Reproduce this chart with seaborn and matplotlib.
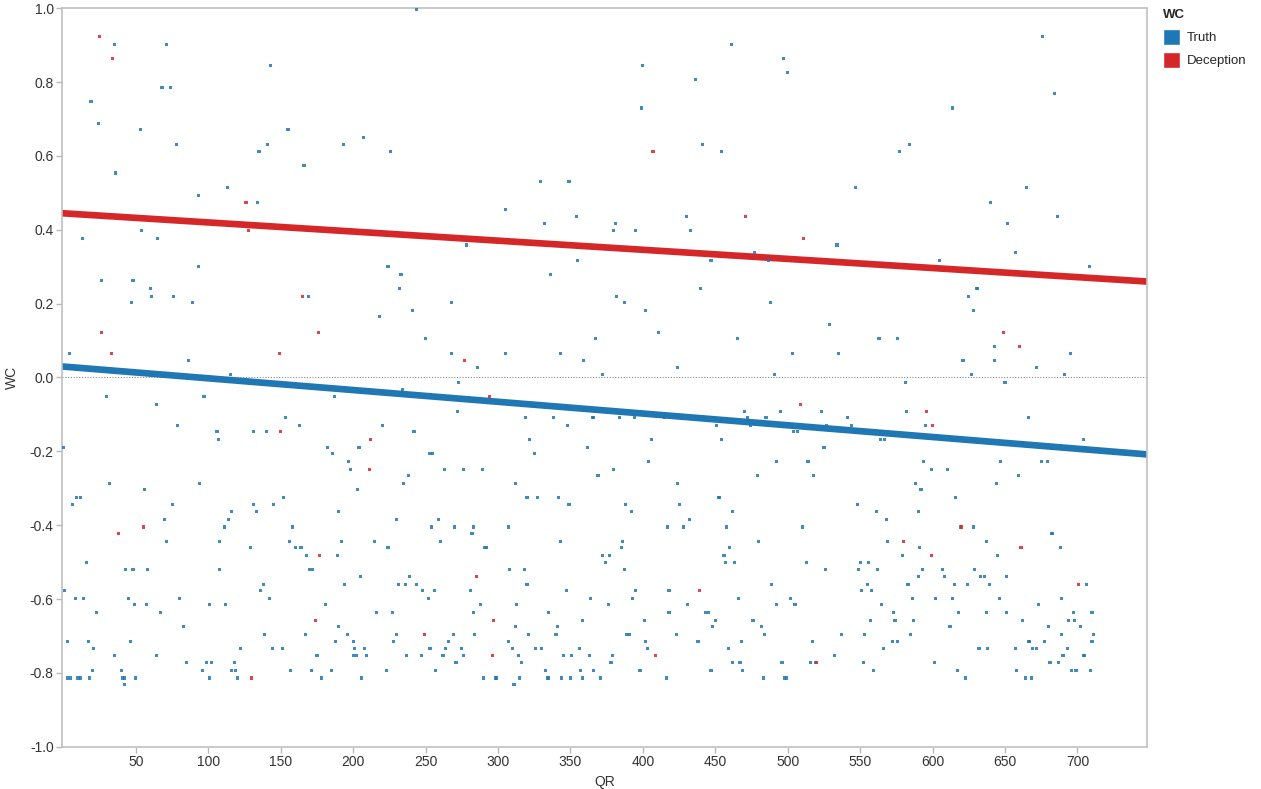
import numpy as np
import pandas as pd
import matplotlib
matplotlib.use("Agg")
import matplotlib.pyplot as plt
from matplotlib.patches import Patch
import seaborn as sns

# points: (QR, WC)
truth_points = [
    (35, 0.903), (71, 0.903), (143, 0.844), (68, 0.786), (74, 0.786), (19, 0.748), (24, 0.688),
    (53, 0.671), (155, 0.671), (78, 0.630), (141, 0.630), (135, 0.612), (166, 0.575), (36, 0.554),
    (93, 0.494), (113, 0.515), (134, 0.473), (54, 0.397), (13, 0.377), (65, 0.377),
    (244, 0.997), (400, 0.844), (399, 0.730), (193, 0.630), (207, 0.650), (226, 0.612), (329, 0.532),
    (349, 0.532), (305, 0.456), (332, 0.418), (354, 0.435), (381, 0.418), (380, 0.397), (395, 0.397),
    (278, 0.359),
    (461, 0.903), (497, 0.865), (500, 0.827), (436, 0.807), (614, 0.730), (441, 0.630), (454, 0.612),
    (577, 0.612), (584, 0.630), (547, 0.515), (430, 0.435), (433, 0.397), (534, 0.359), (477, 0.338),
    (676, 0.924), (684, 0.769), (665, 0.515), (640, 0.473), (686, 0.435), (652, 0.418), (657, 0.338),
    (4, 0.064), (26, 0.262), (48, 0.262), (47, 0.203), (60, 0.241), (61, 0.220), (76, 0.220),
    (89, 0.203), (93, 0.300), (86, 0.047), (115, 0.008), (169, 0.220), (30, -0.051), (64, -0.072),
    (79, -0.130), (97, -0.051), (106, -0.147), (107, -0.168), (131, -0.147), (140, -0.147),
    (153, -0.109), (163, -0.130), (0, -0.189), (182, -0.189), (32, -0.286), (56, -0.304),
    (94, -0.286), (9, -0.324), (12, -0.324), (6, -0.345), (75, -0.345), (131, -0.345), (145, -0.345),
    (152, -0.324),
    (224, 0.300), (233, 0.279), (232, 0.241), (241, 0.182), (218, 0.164), (268, 0.203), (250, 0.106),
    (268, 0.064), (286, 0.026), (305, 0.064), (336, 0.279), (355, 0.317), (343, 0.064), (359, 0.047),
    (367, 0.106), (372, 0.008), (382, 0.220), (387, 0.203), (402, 0.182), (187, -0.051), (234, -0.034),
    (273, -0.013), (272, -0.092), (319, -0.109), (338, -0.109), (348, -0.130), (365, -0.109),
    (366, -0.109), (384, -0.109), (394, -0.109), (220, -0.130), (242, -0.147), (186, -0.206),
    (204, -0.189), (197, -0.227), (198, -0.249), (253, -0.206), (255, -0.206), (322, -0.168),
    (325, -0.206), (263, -0.249), (276, -0.249), (289, -0.249), (238, -0.266), (235, -0.286),
    (203, -0.304), (312, -0.286), (320, -0.324), (327, -0.324), (342, -0.324), (349, -0.345),
    (362, -0.189), (369, -0.266), (380, -0.249), (388, -0.345), (404, -0.227),
    (447, 0.317), (487, 0.317), (605, 0.317), (440, 0.241), (488, 0.203), (411, 0.123), (465, 0.106),
    (529, 0.144), (563, 0.106), (576, 0.106), (625, 0.220), (503, 0.064), (535, 0.064), (424, 0.026),
    (491, 0.008), (621, 0.047), (581, -0.013), (470, -0.092), (495, -0.092), (523, -0.092),
    (582, -0.092), (415, -0.109), (472, -0.109), (485, -0.109), (541, -0.109), (451, -0.130),
    (474, -0.130), (527, -0.130), (544, -0.130), (595, -0.130), (504, -0.147), (507, -0.147),
    (406, -0.168), (454, -0.168), (564, -0.168), (567, -0.168), (525, -0.189), (492, -0.227),
    (514, -0.227), (594, -0.227), (599, -0.249), (610, -0.249), (479, -0.266), (518, -0.266),
    (424, -0.286), (588, -0.286), (592, -0.304), (452, -0.324), (453, -0.324), (616, -0.324),
    (425, -0.345), (548, -0.345),
    (708, 0.300), (630, 0.241), (631, 0.241), (628, 0.182), (643, 0.085), (695, 0.064), (643, 0.047),
    (672, 0.026), (627, 0.008), (691, 0.008), (650, -0.013), (666, -0.109), (704, -0.168),
    (647, -0.227), (675, -0.227), (679, -0.227), (659, -0.266), (644, -0.286),
    (70, -0.384), (71, -0.443), (16, -0.501), (43, -0.520), (48, -0.520), (58, -0.520), (1, -0.577),
    (8, -0.599), (14, -0.599), (45, -0.599), (49, -0.616), (57, -0.616), (23, -0.637), (67, -0.637),
    (80, -0.599), (83, -0.675), (3, -0.716), (17, -0.716), (46, -0.716), (21, -0.734), (35, -0.754),
    (64, -0.754), (20, -0.793), (40, -0.793), (85, -0.772), (3, -0.814), (5, -0.814), (10, -0.814),
    (12, -0.814), (18, -0.814), (41, -0.814), (42, -0.814), (42, -0.831), (50, -0.814), (96, -0.793),
    (99, -0.772), (102, -0.772), (101, -0.814), (101, -0.616), (108, -0.520), (108, -0.443),
    (111, -0.405), (114, -0.384), (116, -0.363), (112, -0.616), (122, -0.734), (116, -0.793),
    (119, -0.793), (118, -0.772), (120, -0.814), (129, -0.460), (133, -0.363), (136, -0.577),
    (138, -0.561), (142, -0.599), (139, -0.696), (144, -0.734), (151, -0.734), (156, -0.443),
    (158, -0.405), (160, -0.460), (164, -0.460), (168, -0.481), (170, -0.520), (172, -0.520),
    (167, -0.696), (175, -0.754), (157, -0.793), (171, -0.793), (178, -0.814), (181, -0.616),
    (190, -0.363), (192, -0.443), (189, -0.481), (194, -0.561), (190, -0.675), (196, -0.696),
    (188, -0.716), (200, -0.716), (201, -0.734), (200, -0.754), (202, -0.754), (208, -0.734),
    (209, -0.754), (185, -0.793), (206, -0.814), (205, -0.540), (215, -0.443), (224, -0.460),
    (230, -0.384), (231, -0.561), (216, -0.637), (227, -0.637), (230, -0.696), (228, -0.716),
    (223, -0.793), (236, -0.561), (244, -0.561), (239, -0.540), (237, -0.754), (247, -0.754),
    (248, -0.577), (252, -0.599), (256, -0.577), (253, -0.734), (254, -0.405), (259, -0.384),
    (260, -0.443), (257, -0.793), (262, -0.754), (264, -0.734), (266, -0.716), (269, -0.696),
    (270, -0.405), (271, -0.772), (275, -0.734), (276, -0.754), (281, -0.577), (282, -0.422),
    (283, -0.405), (283, -0.637), (284, -0.696), (288, -0.616), (291, -0.460), (292, -0.460),
    (290, -0.814), (298, -0.814), (299, -0.814), (307, -0.405), (308, -0.520), (318, -0.520),
    (320, -0.561), (313, -0.616), (312, -0.675), (307, -0.716), (310, -0.734), (314, -0.754),
    (316, -0.772), (315, -0.814), (311, -0.831), (321, -0.696), (326, -0.734), (330, -0.734),
    (335, -0.637), (333, -0.793), (334, -0.814), (335, -0.814), (341, -0.675), (340, -0.696),
    (343, -0.443), (347, -0.577), (345, -0.754), (351, -0.754), (344, -0.814), (350, -0.814),
    (356, -0.734), (358, -0.659), (357, -0.793), (358, -0.814), (363, -0.754), (364, -0.599),
    (366, -0.793), (371, -0.814), (372, -0.481), (377, -0.481), (374, -0.501), (376, -0.616),
    (378, -0.772), (379, -0.754), (385, -0.460), (386, -0.443), (387, -0.520), (392, -0.363),
    (389, -0.696), (391, -0.696), (393, -0.599), (395, -0.577), (398, -0.793), (401, -0.659),
    (402, -0.716), (403, -0.734),
    (416, -0.814), (417, -0.405), (418, -0.578), (418, -0.637), (423, -0.696), (428, -0.405),
    (432, -0.384), (431, -0.616), (438, -0.716), (443, -0.637), (445, -0.637), (450, -0.659),
    (448, -0.675), (447, -0.793), (456, -0.481), (457, -0.501), (458, -0.405), (460, -0.460),
    (462, -0.363), (463, -0.501), (459, -0.734), (462, -0.772), (467, -0.772), (466, -0.599),
    (468, -0.716), (469, -0.793), (476, -0.659), (480, -0.443), (482, -0.675), (484, -0.696),
    (483, -0.814), (489, -0.561), (492, -0.616), (496, -0.772), (498, -0.814), (499, -0.814),
    (502, -0.599), (505, -0.616), (510, -0.405), (513, -0.501), (517, -0.716), (516, -0.772),
    (519, -0.772), (526, -0.520), (532, -0.754), (537, -0.696), (549, -0.520), (550, -0.501),
    (551, -0.578), (552, -0.772), (553, -0.696), (555, -0.561), (556, -0.501), (558, -0.578),
    (557, -0.659), (559, -0.793), (561, -0.363), (562, -0.520), (565, -0.616), (566, -0.734),
    (568, -0.384), (569, -0.443), (573, -0.637), (574, -0.659), (572, -0.716), (576, -0.716),
    (579, -0.481), (583, -0.561), (586, -0.599), (587, -0.659), (585, -0.696), (590, -0.363),
    (591, -0.460), (590, -0.540), (593, -0.520), (602, -0.599), (601, -0.772), (607, -0.520),
    (608, -0.540), (612, -0.675), (614, -0.599), (615, -0.561), (618, -0.637), (617, -0.793),
    (619, -0.405), (623, -0.814), (624, -0.561),
    (628, -0.405), (637, -0.443), (645, -0.481), (682, -0.422), (683, -0.422), (688, -0.460),
    (629, -0.520), (633, -0.540), (636, -0.540), (651, -0.540), (639, -0.561), (706, -0.561),
    (646, -0.599), (673, -0.616), (689, -0.599), (637, -0.637), (651, -0.637), (710, -0.637),
    (662, -0.659), (694, -0.659), (698, -0.659), (697, -0.637), (680, -0.675), (702, -0.675),
    (689, -0.696), (711, -0.696), (666, -0.716), (667, -0.716), (677, -0.716), (710, -0.716),
    (632, -0.734), (638, -0.734), (657, -0.734), (669, -0.734), (672, -0.734), (693, -0.734),
    (690, -0.754), (704, -0.754), (705, -0.754), (681, -0.772), (687, -0.772), (658, -0.793),
    (696, -0.793), (699, -0.793), (709, -0.793), (664, -0.814), (668, -0.814),
]

deception_points = [
    (25, 0.924), (34, 0.865), (126, 0.473), (128, 0.397), (407, 0.612), (471, 0.435), (511, 0.377),
    (26, 0.123), (33, 0.064), (165, 0.220), (176, 0.123), (149, 0.064), (150, -0.147), (277, 0.047),
    (294, -0.051), (212, -0.168), (211, -0.249), (509, -0.072), (596, -0.092), (600, -0.130),
    (649, 0.123), (660, 0.085), (38, -0.422), (55, -0.405), (130, -0.814), (177, -0.481),
    (174, -0.659), (249, -0.696), (285, -0.540), (297, -0.659), (296, -0.754), (409, -0.754),
    (439, -0.578), (520, -0.772), (580, -0.443), (599, -0.481), (620, -0.405), (661, -0.460),
    (701, -0.561),
]

# trend lines (intercept, slope)
trend_intercept = {"Truth": 0.0296, "Deception": 0.4447}
trend_slope = {"Truth": -0.000318, "Deception": -0.000247}

colors = {"Truth": "#1f77b4", "Deception": "#d62728"}

truth = pd.DataFrame(truth_points, columns=["QR", "WC"])
truth["Type"] = "Truth"
decep = pd.DataFrame(deception_points, columns=["QR", "WC"])
decep["Type"] = "Deception"
data = pd.concat([truth, decep], ignore_index=True)

sns.set_style("white")
plt.rcParams["font.family"] = ["Liberation Sans", "DejaVu Sans"]
plt.rcParams["axes.unicode_minus"] = False

fig = plt.figure(figsize=(12.61, 7.89), dpi=100)
ax = fig.add_axes([0.0492, 0.0536, 0.8604, 0.9359])

ax.set_xlim(-1, 748)
ax.set_ylim(-1.0, 1.0)

# dotted zero reference line
ax.axhline(0, color="#8c8c8c", linestyle=(0, (1, 1.5)), linewidth=0.8, zorder=1)

xs = np.array(ax.get_xlim())
for name in ["Deception", "Truth"]:
    sns.lineplot(x=xs, y=trend_intercept[name] + trend_slope[name] * xs,
                 color=colors[name], linewidth=4.8, ax=ax, zorder=2)

sns.scatterplot(data=data, x="QR", y="WC", hue="Type", palette=colors,
                marker="s", s=5, linewidth=0, alpha=0.85, legend=False,
                ax=ax, zorder=3)

ax.set_xlim(-1, 748)
ax.set_ylim(-1.0, 1.0)
ax.set_xticks(np.arange(50, 701, 50))
yt = np.round(np.arange(-1.0, 1.01, 0.2), 1)
ax.set_yticks(yt)
ax.set_yticklabels([f"{v:.1f}".replace("-0.0", "0.0") for v in yt])

ax.tick_params(axis="both", bottom=True, left=True, length=4, width=1, color="#b8b8b8",
               labelcolor="#333333", labelsize=10, pad=2)
for sp in ax.spines.values():
    sp.set_color("#c0c0c0")
    sp.set_linewidth(1.2)

ax.set_xlabel("QR", fontsize=10, color="#333333", labelpad=4)
ax.set_ylabel("WC", fontsize=10, color="#333333", labelpad=8)

handles = [Patch(facecolor=colors["Truth"], label="Truth"),
           Patch(facecolor=colors["Deception"], label="Deception")]
leg = fig.legend(handles=handles, title="WC", loc="upper left",
                 bbox_to_anchor=(1158 / 1261, 1 - 4 / 789), frameon=False,
                 fontsize=9.5, handlelength=1.3, handleheight=1.5,
                 handletextpad=0.5, labelspacing=0.55, borderaxespad=0)
leg.get_title().set_fontweight("bold")
leg.get_title().set_fontsize(9.5)
leg._legend_box.align = "left"

fig.savefig("out.png", dpi=100)
